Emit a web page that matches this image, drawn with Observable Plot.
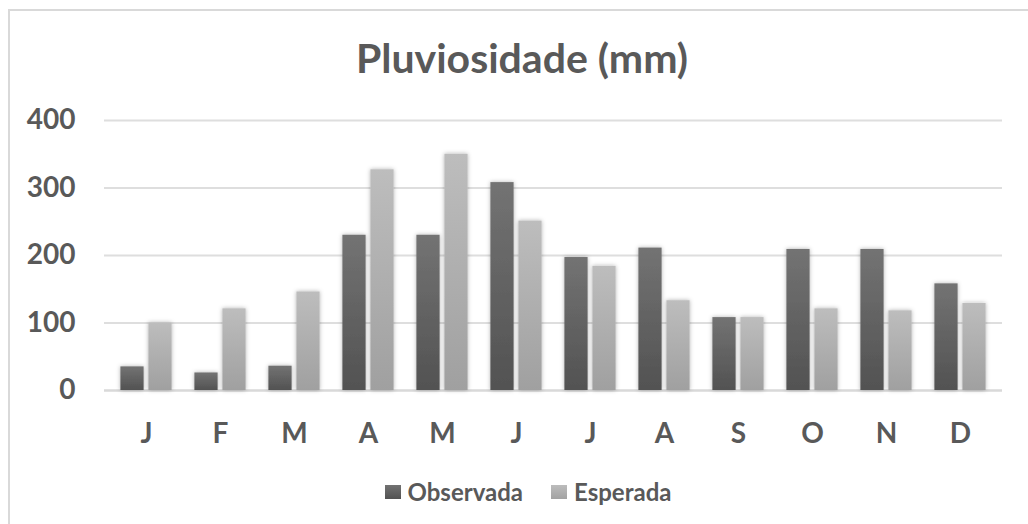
<!DOCTYPE html>
<html>
<head>
<meta charset="utf-8">
<script src="https://cdn.jsdelivr.net/npm/d3@7"></script>
<script src="https://cdn.jsdelivr.net/npm/@observablehq/plot@0.6"></script>
<style>
  html, body { margin: 0; padding: 0; width: 1028px; height: 524px; overflow: hidden; background: #fff; font-family: Lato, sans-serif; }
  #frame { position: absolute; left: 8px; top: 9px; width: 1100px; height: 600px; border-left: 2px solid #d9d9d9; border-top: 2px solid #d9d9d9; }
  #title { position: absolute; left: 0; width: 1044px; top: 37px; text-align: center; font-size: 41px; font-weight: 700; color: #595959; line-height: 1; }
  #chart { position: absolute; left: 0; top: 95px; }
  #chart text { font-family: Lato, sans-serif; font-weight: 700; fill: #595959; }
  #legend { position: absolute; left: 0; width: 1056px; top: 480px; display: flex; justify-content: center; align-items: center; font-size: 24px; font-weight: 700; color: #595959; line-height: 1; }
  .sw { display: inline-block; width: 16px; height: 14px; margin-right: 7px; }
  .item { display: flex; align-items: center; margin: 0 14px; }
</style>
</head>
<body>
<div id="frame"></div>
<div id="title">Pluviosidade (mm)</div>
<div id="chart"></div>
<div id="legend">
  <span class="item"><span class="sw" style="background:linear-gradient(#727272,#525252)"></span>Observada</span>
  <span class="item"><span class="sw" style="background:linear-gradient(#bcbcbc,#a2a2a2)"></span>Esperada</span>
</div>
<script>
const months = ["J","F","M","A","M","J","J","A","S","O","N","D"];
const observada = [35, 26, 36, 230, 230, 308, 197, 211, 108, 209, 209, 158];
const esperada = [100, 121, 146, 327, 350, 251, 184, 133, 108, 121, 118, 129];
const yTicks = [0, 100, 200, 300, 400];
const seriesNames = ["Observada", "Esperada"];

const idx = months.map((_, i) => i);
const obsData = idx.map(i => ({i, v: observada[i], s: seriesNames[0]}));
const espData = idx.map(i => ({i, v: esperada[i], s: seriesNames[1]}));

const plot = Plot.plot({
  width: 1028,
  height: 365,
  marginLeft: 104,
  marginRight: 26,
  marginTop: 25,
  marginBottom: 70,
  x: {domain: idx, padding: 0, label: null},
  y: {domain: [0, 400], label: null},
  marks: [
    Plot.ruleY([100, 200, 300, 400], {stroke: "#dedede", strokeWidth: 2}),
    Plot.ruleY([0], {stroke: "#d9d9d9", strokeWidth: 2.5}),
    Plot.barY(obsData, {x: "i", y: "v", fill: "#606060", insetLeft: 11.4, insetRight: 39.4}),
    Plot.barY(espData, {x: "i", y: "v", fill: "#b0b0b0", insetLeft: 39.4, insetRight: 11.4}),
    Plot.axisY({ticks: yTicks, tickSize: 0, tickPadding: 29, fontSize: 28, label: null}),
    Plot.axisX({tickFormat: i => months[i], tickSize: 0, tickPadding: 33, fontSize: 28, label: null})
  ]
});
document.getElementById("chart").appendChild(plot);

// gradients and soft shadow for bars
const svg = d3.select(plot);
const defs = svg.insert("defs", ":first-child");
function grad(id, top, bottom) {
  const g = defs.append("linearGradient").attr("id", id).attr("x1", 0).attr("y1", 0).attr("x2", 0).attr("y2", 1);
  g.append("stop").attr("offset", "0%").attr("stop-color", top);
  g.append("stop").attr("offset", "100%").attr("stop-color", bottom);
}
grad("gObs", "#737373", "#525252");
grad("gEsp", "#bdbdbd", "#a0a0a0");
const f = defs.append("filter").attr("id", "sh").attr("x", "-30%").attr("y", "-10%").attr("width", "160%").attr("height", "120%");
f.append("feDropShadow").attr("dx", 0).attr("dy", 0).attr("stdDeviation", 2).attr("flood-color", "#000").attr("flood-opacity", 0.3);
const bars = svg.selectAll("g[aria-label='bar']").nodes();
d3.select(bars[0]).attr("fill", "url(#gObs)").attr("filter", "url(#sh)");
d3.select(bars[1]).attr("fill", "url(#gEsp)").attr("filter", "url(#sh)");
</script>
</body>
</html>
